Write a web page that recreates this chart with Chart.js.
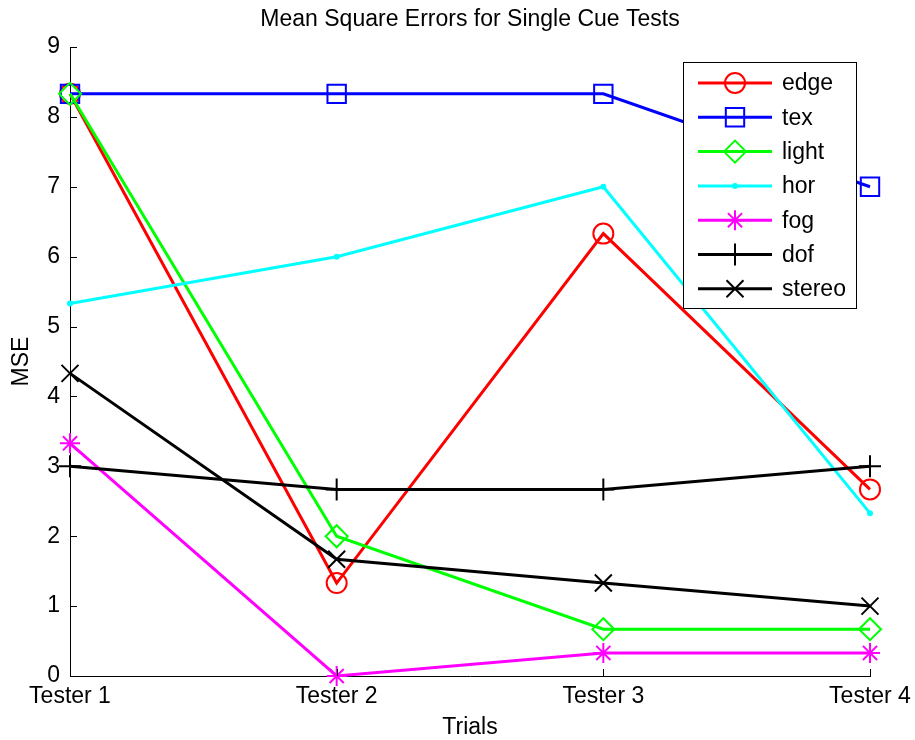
<!DOCTYPE html>
<html>
<head>
<meta charset="utf-8">
<script src="https://cdn.jsdelivr.net/npm/chart.js@4.4.1/dist/chart.umd.min.js"></script>
<style>
  html, body { margin: 0; padding: 0; background: #fff; }
  #wrap { width: 915px; height: 740px; }
</style>
</head>
<body>
<div id="wrap"><canvas id="mseChart" width="915" height="740"></canvas></div>
<script>
const testers = ["Tester 1", "Tester 2", "Tester 3", "Tester 4"];
const yTicks = [0, 1, 2, 3, 4, 5, 6, 7, 8, 9];

const cueNames = ["edge", "tex", "light", "hor", "fog", "dof", "stereo"];
const edge   = [8.33, 1.33, 6.33, 2.67];
const tex    = [8.33, 8.33, 8.33, 7.0];
const light  = [8.33, 2.0, 0.67, 0.67];
const hor    = [5.33, 6.0, 7.0, 2.33];
const fog    = [3.33, 0.0, 0.33, 0.33];
const dof    = [3.0, 2.67, 2.67, 3.0];
const stereo = [4.33, 1.67, 1.33, 1.0];

const FONT = '"Liberation Sans", Arial, sans-serif';
const FONT_SIZE = 23;

// matlab style markers for each cue
const looks = {
  edge:   { color: "#ff0000", style: "circle",   radius: 10, fill: false },
  tex:    { color: "#0000ff", style: "rect",     radius: 13, fill: false },
  light:  { color: "#00ff00", style: "rectRot",  radius: 11, fill: false },
  hor:    { color: "#00ffff", style: "circle",   radius: 2, fill: true },
  fog:    { color: "#ff00ff", style: "star",     radius: 10, fill: false },
  dof:    { color: "#000000", style: "cross",    radius: 11, fill: false },
  stereo: { color: "#000000", style: "crossRot", radius: 12, fill: false }
};

const seriesData = [edge, tex, light, hor, fog, dof, stereo];

const datasets = cueNames.map((name, i) => {
  const lk = looks[name];
  return {
    label: name,
    data: seriesData[i],
    borderColor: lk.color,
    backgroundColor: lk.color,
    borderWidth: 3,
    pointStyle: lk.style,
    pointRadius: lk.radius,
    pointBorderColor: lk.color,
    pointBackgroundColor: lk.fill ? lk.color : "rgba(0,0,0,0)",
    pointBorderWidth: 2,
    tension: 0,
    clip: false,
    order: cueNames.length - i   // later series on top, like matlab
  };
});

// title, axis labels, inward ticks and the boxed legend
const matlabLook = {
  id: "matlabLook",
  afterDraw(chart) {
    const ctx = chart.ctx;
    const area = chart.chartArea;
    const xs = chart.scales.x;
    const ys = chart.scales.y;
    ctx.save();

    ctx.strokeStyle = "#000";
    ctx.lineWidth = 1;
    ctx.beginPath();
    ys.ticks.forEach((t, i) => {
      const y = Math.round(ys.getPixelForTick(i)) + 0.5;
      ctx.moveTo(area.left, y);
      ctx.lineTo(area.left + 7, y);
    });
    xs.ticks.forEach((t, i) => {
      const x = Math.round(xs.getPixelForTick(i)) + 0.5;
      ctx.moveTo(x, area.bottom);
      ctx.lineTo(x, area.bottom - 7);
    });
    ctx.stroke();

    ctx.fillStyle = "#000";
    ctx.font = FONT_SIZE + "px " + FONT;
    ctx.textAlign = "center";
    ctx.textBaseline = "middle";
    const midX = (area.left + area.right) / 2;
    ctx.fillText("Mean Square Errors for Single Cue Tests", midX, 20);
    ctx.fillText("Trials", midX, 728);
    ctx.save();
    ctx.translate(22, (area.top + area.bottom) / 2);
    ctx.rotate(-Math.PI / 2);
    ctx.fillText("MSE", 0, 0);
    ctx.restore();

    // legend
    const box = { x: 683.5, y: 62.5, w: 173, h: 246 };
    ctx.fillStyle = "#fff";
    ctx.fillRect(box.x, box.y, box.w, box.h);
    ctx.strokeStyle = "#000";
    ctx.lineWidth = 1;
    ctx.strokeRect(box.x, box.y, box.w, box.h);

    chart.data.datasets.forEach((ds, i) => {
      const y = 83 + i * 34.3;
      ctx.strokeStyle = ds.borderColor;
      ctx.lineWidth = 3;
      ctx.beginPath();
      ctx.moveTo(698, y);
      ctx.lineTo(772, y);
      ctx.stroke();
      ctx.strokeStyle = ds.pointBorderColor;
      ctx.fillStyle = ds.pointBackgroundColor;
      ctx.lineWidth = ds.pointBorderWidth;
      Chart.helpers.drawPoint(ctx, {
        pointStyle: ds.pointStyle,
        radius: ds.pointRadius,
        rotation: 0,
        borderWidth: ds.pointBorderWidth
      }, 735, y);
      ctx.fillStyle = "#000";
      ctx.textAlign = "left";
      ctx.textBaseline = "middle";
      ctx.fillText(ds.label, 782, y + 1);
    });

    ctx.restore();
  }
};

const tickFont = { family: FONT, size: FONT_SIZE };

new Chart(document.getElementById("mseChart").getContext("2d"), {
  type: "line",
  data: { labels: testers, datasets },
  options: {
    responsive: false,
    devicePixelRatio: 1,
    animation: false,
    events: [],
    layout: { padding: { top: 47, right: 45, left: 0, bottom: 0 } },
    plugins: {
      legend: { display: false },
      title: { display: false },
      tooltip: { enabled: false }
    },
    scales: {
      x: {
        type: "category",
        offset: false,
        grid: { drawOnChartArea: false, drawTicks: false },
        border: { color: "#000", width: 1 },
        ticks: { color: "#000", font: tickFont, padding: 7, maxRotation: 0, autoSkip: false },
        afterFit: s => {
          s.height = 64;
          s.paddingLeft = 0;
          s.paddingRight = 0;
        }
      },
      y: {
        min: 0,
        max: 9,
        grid: { drawOnChartArea: false, drawTicks: false },
        border: { color: "#000", width: 1 },
        ticks: {
          color: "#000",
          font: tickFont,
          padding: 10,
          stepSize: 1,
          callback: v => yTicks.includes(v) ? String(v) : ""
        },
        afterFit: s => {
          s.width = 70;
          s.paddingTop = 0;
          s.paddingBottom = 0;
        }
      }
    }
  },
  plugins: [matlabLook]
});
</script>
</body>
</html>
